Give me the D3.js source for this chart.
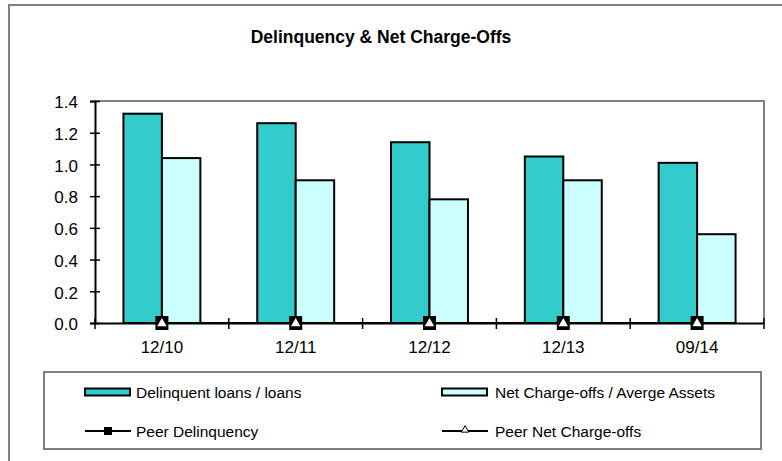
<!DOCTYPE html>
<html><head><meta charset="utf-8">
<script src="https://cdn.jsdelivr.net/npm/d3@7/dist/d3.min.js"></script>
<style>
html,body{margin:0;padding:0;background:#fff;}
svg{display:block;font-family:"Liberation Sans",Arial,sans-serif;}
</style></head>
<body>
<svg id="chart" width="782" height="461"></svg>
<script>
const categories = ["12/10","12/11","12/12","12/13","09/14"];
const delinquentLoans = [1.32,1.26,1.14,1.05,1.01];
const netChargeOffs = [1.04,0.90,0.78,0.90,0.56];
const peerDelinquency = [0,0,0,0,0];
const peerNetChargeOffs = [0,0,0,0,0];
const yTicks = [0,0.2,0.4,0.6,0.8,1.0,1.2,1.4];
const seriesNames = ["Delinquent loans / loans","Net Charge-offs / Averge Assets","Peer Delinquency","Peer Net Charge-offs"];

const svg = d3.select("#chart");
const L = 95, R = 764, T = 101, B = 323;
const TEAL = "#33CCCC", LIGHT = "#CCFFFF", GRAY = "#808080";

// outer border
svg.append("rect").attr("x",9).attr("y",5).attr("width",800).attr("height",480)
  .attr("fill","none").attr("stroke",GRAY).attr("stroke-width",2);

// title
svg.append("text").attr("x",381).attr("y",43).attr("text-anchor","middle")
  .attr("font-size",17.5).attr("font-weight","bold").text("Delinquency & Net Charge-Offs");

const x = d3.scaleBand().domain(categories).range([L,R]).paddingInner(0.425).paddingOuter(0.2125);
const x1 = d3.scaleBand().domain([0,1]).range([0,x.bandwidth()]);
const y = d3.scaleLinear().domain([0,1.4]).range([B,T]);

// plot area border (top & right)
svg.append("path").attr("d",`M${L},${T}H${R}V${B}`).attr("fill","none").attr("stroke",GRAY).attr("stroke-width",2);

// bars
const groups = svg.append("g").selectAll("g").data(categories).join("g")
  .attr("transform",c=>`translate(${x(c)},0)`);
groups.append("rect").attr("x",x1(0)).attr("width",x1.bandwidth())
  .attr("y",(c,i)=>y(delinquentLoans[i])).attr("height",(c,i)=>y(0)-y(delinquentLoans[i]))
  .attr("fill",TEAL).attr("stroke","#000").attr("stroke-width",2);
groups.append("rect").attr("x",x1(1)).attr("width",x1.bandwidth())
  .attr("y",(c,i)=>y(netChargeOffs[i])).attr("height",(c,i)=>y(0)-y(netChargeOffs[i]))
  .attr("fill",LIGHT).attr("stroke","#000").attr("stroke-width",2);

// y axis
const yAxis = svg.append("g").attr("transform",`translate(${L},0)`)
  .call(d3.axisLeft(y).tickValues(yTicks).tickFormat(d3.format(".1f")).tickSize(5).tickPadding(12));
yAxis.select(".domain").attr("stroke","#000").attr("stroke-width",2);
yAxis.selectAll(".tick line").attr("x1",-5).attr("x2",5).attr("stroke","#000").attr("stroke-width",1.5);
yAxis.selectAll(".tick text").attr("font-size",17).attr("font-family","Liberation Sans, Arial, sans-serif").attr("fill","#000").attr("dy","0.4em");

// x axis
const xAxis = svg.append("g").attr("transform",`translate(0,${B})`)
  .call(d3.axisBottom(x).tickSize(0).tickPadding(18));
xAxis.select(".domain").attr("stroke","#000").attr("stroke-width",2);
xAxis.selectAll(".tick text").attr("font-size",17).attr("font-family","Liberation Sans, Arial, sans-serif").attr("fill","#000");
const bounds = categories.map(c=>x(c)+x.bandwidth()/2-x.step()/2).concat([x(categories[categories.length-1])+x.bandwidth()/2+x.step()/2]);
svg.append("g").selectAll("line").data(bounds).join("line")
  .attr("x1",d=>d).attr("x2",d=>d).attr("y1",B-5).attr("y2",B+6).attr("stroke","#000").attr("stroke-width",1.5);

// peer lines
const cx = c=>x(c)+x.bandwidth()/2;
svg.append("path").datum(peerDelinquency)
  .attr("d",d3.line().x((d,i)=>cx(categories[i])).y(d=>y(d)))
  .attr("fill","none").attr("stroke","#000").attr("stroke-width",2);
svg.append("path").datum(peerNetChargeOffs)
  .attr("d",d3.line().x((d,i)=>cx(categories[i])).y(d=>y(d)))
  .attr("fill","none").attr("stroke","#000").attr("stroke-width",2);
// markers
svg.append("g").selectAll("rect").data(peerDelinquency).join("rect")
  .attr("x",(d,i)=>cx(categories[i])-6.5).attr("y",d=>y(d)-7).attr("width",13).attr("height",14).attr("fill","#000");
const tri = d3.symbol().type(d3.symbolTriangle).size(38);
svg.append("g").selectAll("path").data(peerNetChargeOffs).join("path")
  .attr("transform",(d,i)=>`translate(${cx(categories[i])},${y(d)+0.5})`).attr("d",tri).attr("fill","#fff");

// legend
const lg = svg.append("g");
lg.append("rect").attr("x",44).attr("y",372).attr("width",717).attr("height",77)
  .attr("fill","#fff").attr("stroke",GRAY).attr("stroke-width",2);
const legendPos = [[85,392],[442,392],[85,431],[442,431]];
// bar swatches
[[TEAL,0],[LIGHT,1]].forEach(([col,k])=>{
  const [lx,ly]=legendPos[k];
  lg.append("rect").attr("x",lx).attr("y",ly-3.5).attr("width",45).attr("height",7)
    .attr("fill",col).attr("stroke","#000").attr("stroke-width",2);
});
// line swatches
[2,3].forEach(k=>{
  const [lx,ly]=legendPos[k];
  lg.append("line").attr("x1",lx).attr("x2",lx+46).attr("y1",ly).attr("y2",ly).attr("stroke","#000").attr("stroke-width",2);
});
lg.append("rect").attr("x",legendPos[2][0]+19).attr("y",legendPos[2][1]-4).attr("width",8).attr("height",8).attr("fill","#000");
lg.append("path").attr("transform",`translate(${legendPos[3][0]+23},${legendPos[3][1]-1})`)
  .attr("d",d3.symbol().type(d3.symbolTriangle).size(24)).attr("fill","#fff").attr("stroke","#000").attr("stroke-width",1);
lg.selectAll("text").data(seriesNames).join("text")
  .attr("x",(d,i)=>legendPos[i][0]+(i%2===0?51:53)).attr("y",(d,i)=>legendPos[i][1]+5.5)
  .attr("font-size",15.5).attr("fill","#000").text(d=>d);
</script>
</body></html>
